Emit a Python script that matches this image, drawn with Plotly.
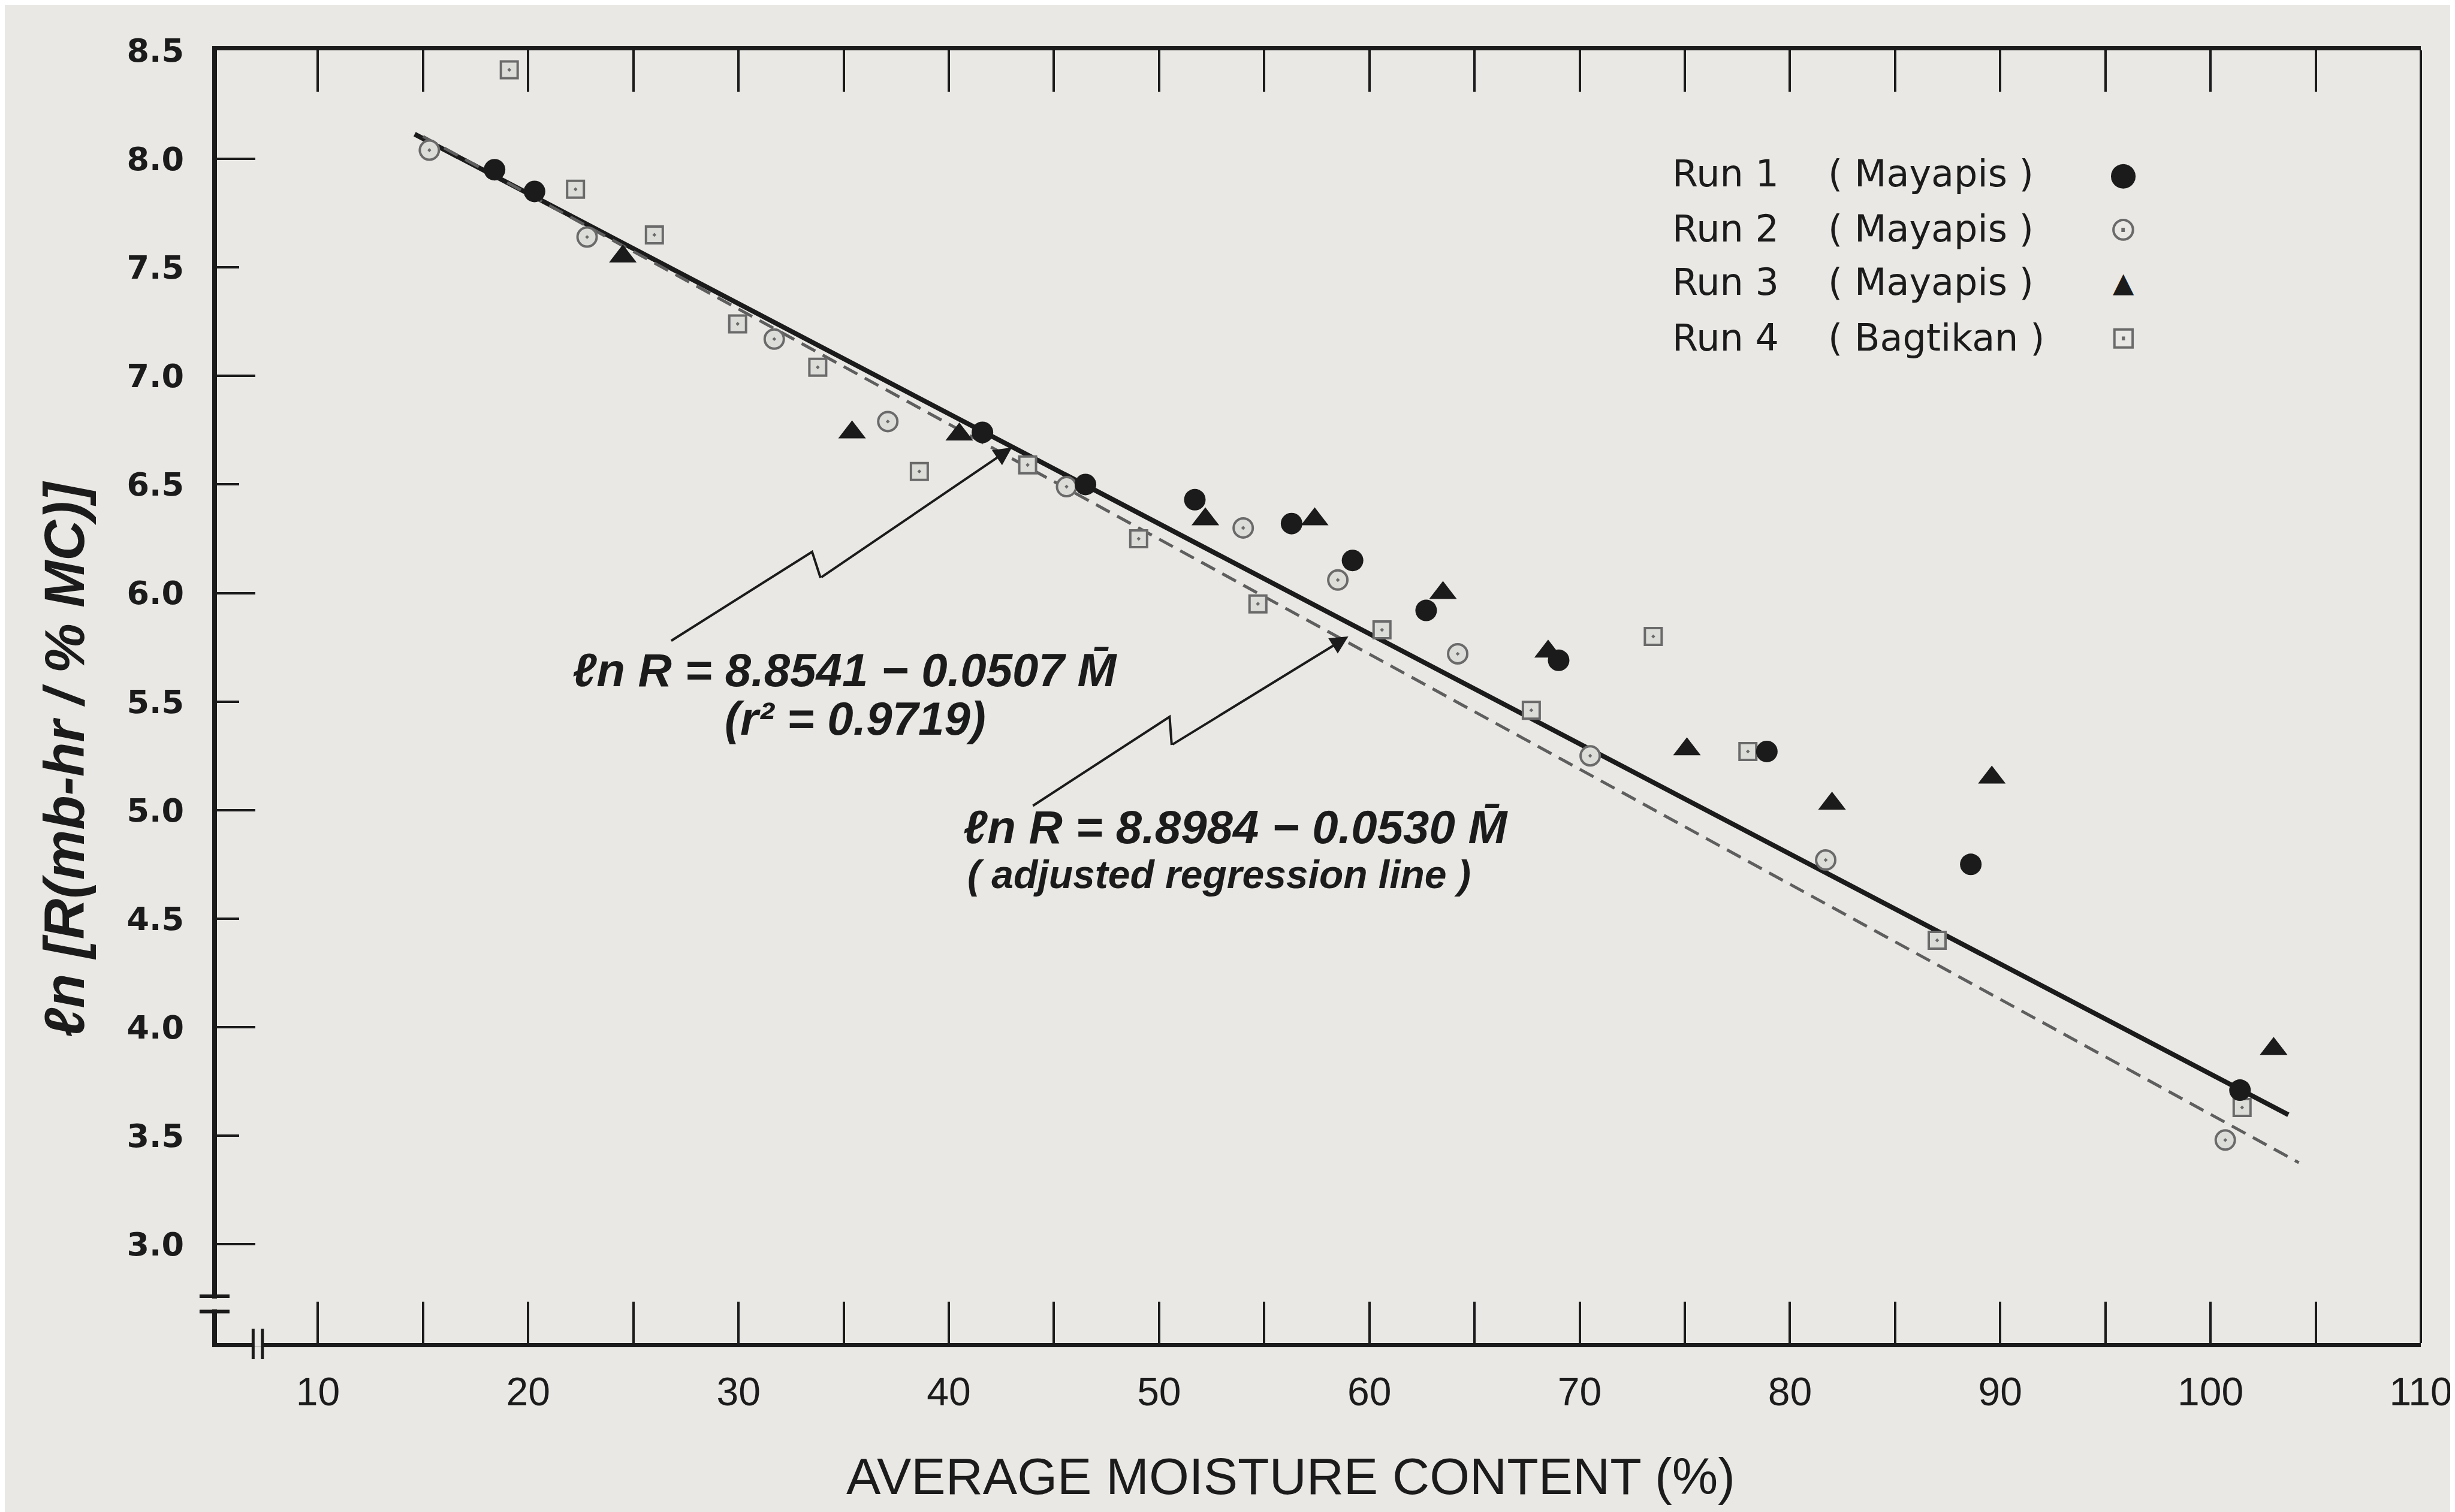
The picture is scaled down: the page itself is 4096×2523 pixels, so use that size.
import plotly.graph_objects as go

# ---------------- data ----------------
run1_m = [18.4, 20.3, 41.6, 46.5, 51.7, 56.3, 59.2, 62.7, 69.0, 78.9, 88.6, 101.4]
run1_v = [7.95, 7.85, 6.74, 6.50, 6.43, 6.32, 6.15, 5.92, 5.69, 5.27, 4.75, 3.71]

run2_m = [15.3, 22.8, 31.7, 37.1, 45.6, 54.0, 58.5, 64.2, 70.5, 81.7, 100.7]
run2_v = [8.04, 7.64, 7.17, 6.79, 6.49, 6.30, 6.06, 5.72, 5.25, 4.77, 3.48]

run3_m = [24.5, 35.4, 40.5, 52.2, 57.4, 63.5, 68.5, 75.1, 82.0, 89.6, 103.0]
run3_v = [7.55, 6.74, 6.73, 6.34, 6.34, 6.00, 5.73, 5.28, 5.03, 5.15, 3.90]

run4_m = [19.1, 22.25, 26.0, 29.96, 33.77, 38.6, 43.75, 49.03, 54.7, 60.6, 67.7, 73.5, 78.0, 87.0, 101.5]
run4_v = [8.41, 7.86, 7.65, 7.24, 7.04, 6.56, 6.59, 6.25, 5.95, 5.83, 5.46, 5.80, 5.27, 4.40, 3.63]

# regression lines: ln R = a - b*M
fit_a, fit_b = 8.8541, 0.0507
adj_a, adj_b = 8.8984, 0.0530
fit_m = [14.6, 103.7]
adj_m = [15.0, 104.2]

x_ticks = [10, 20, 30, 40, 50, 60, 70, 80, 90, 100, 110]
x_minor = [15, 25, 35, 45, 55, 65, 75, 85, 95, 105]
y_ticks = [3.0, 3.5, 4.0, 4.5, 5.0, 5.5, 6.0, 6.5, 7.0, 7.5, 8.0, 8.5]
y_major = [3.0, 4.0, 5.0, 6.0, 7.0, 8.0]

legend_runs = ["Run 1", "Run 2", "Run 3", "Run 4"]
legend_woods = ["( Mayapis )", "( Mayapis )", "( Mayapis )", "( Bagtikan )"]
legend_syms = ["\u25CF", "\u2299", "\u25B2", "\u22A1"]

x_range = [5.2, 110]
y_range = [2.545, 8.5]

# ---------------- style ----------------
BG = "#e9e8e4"
INK = "#1b1b1b"
GREY = "#6a6a6a"

fig = go.Figure()

fig.add_trace(go.Scatter(
    x=fit_m, y=[fit_a - fit_b * m for m in fit_m], mode="lines",
    line=dict(color=INK, width=8), showlegend=False, hoverinfo="skip"))
fig.add_trace(go.Scatter(
    x=adj_m, y=[adj_a - adj_b * m for m in adj_m], mode="lines",
    line=dict(color="#5e5e5e", width=5, dash="26px,14px"), showlegend=False, hoverinfo="skip"))

fig.add_trace(go.Scatter(
    x=run4_m, y=run4_v, mode="markers", name="Run 4 (Bagtikan)",
    marker=dict(symbol="square-dot", size=28, color="#dcdcd8", line=dict(color=GREY, width=4)),
    showlegend=False))
fig.add_trace(go.Scatter(
    x=run2_m, y=run2_v, mode="markers", name="Run 2 (Mayapis)",
    marker=dict(symbol="circle-dot", size=32, color="#dcdcd8", line=dict(color=GREY, width=4)),
    showlegend=False))
fig.add_trace(go.Scatter(
    x=run3_m, y=run3_v, mode="markers", name="Run 3 (Mayapis)",
    marker=dict(symbol="triangle-up", size=40, color=INK, line=dict(width=0)),
    showlegend=False))
fig.add_trace(go.Scatter(
    x=run1_m, y=run1_v, mode="markers", name="Run 1 (Mayapis)",
    marker=dict(symbol="circle", size=36, color=INK, line=dict(width=0)),
    showlegend=False))

# helper trace for the long (whole-number) ticks axis
fig.add_trace(go.Scatter(x=[None], y=[None], yaxis="y2", showlegend=False, hoverinfo="skip"))

annotations = []
# legend as text
row_y = [0.9045, 0.8623, 0.8206, 0.7779]
for i in range(4):
    annotations.append(dict(x=0.6599, y=row_y[i], xref="paper", yref="paper", text=legend_runs[i],
                            showarrow=False, xanchor="left", yanchor="middle",
                            font=dict(family="DejaVu Sans", size=62, color=INK)))
    annotations.append(dict(x=0.7306, y=row_y[i], xref="paper", yref="paper", text=legend_woods[i],
                            showarrow=False, xanchor="left", yanchor="middle",
                            font=dict(family="DejaVu Sans", size=62, color=INK)))
sym_col = [INK, GREY, INK, GREY]
sym_size = [54, 56, 46, 52]
for i in range(4):
    annotations.append(dict(x=0.865, y=row_y[i], xref="paper", yref="paper", text=legend_syms[i],
                            showarrow=False, xanchor="center", yanchor="middle",
                            font=dict(family="DejaVu Sans", size=sym_size[i], color=sym_col[i])))

EQF = dict(family="Liberation Sans", size=78, color=INK, style="italic", weight="bold")
annotations += [
    dict(x=0.2848, y=0.5205, xref="paper", yref="paper", showarrow=False,
         text="\u2113n R = 8.8541 \u2212 0.0507 M\u0304", font=EQF, xanchor="center", yanchor="middle"),
    dict(x=0.2897, y=0.4830, xref="paper", yref="paper", showarrow=False,
         text="(r\u00b2 = 0.9719)", font=EQF, xanchor="center", yanchor="middle"),
    dict(x=0.4623, y=0.3990, xref="paper", yref="paper", showarrow=False,
         text="\u2113n R = 8.8984 \u2212 0.0530 M\u0304", font=EQF, xanchor="center", yanchor="middle"),
    dict(x=0.4547, y=0.3625, xref="paper", yref="paper", showarrow=False,
         text="( adjusted regression line )",
         font=dict(family="Liberation Sans", size=66, color=INK, style="italic", weight="bold"),
         xanchor="center", yanchor="middle"),
]

# arrows (last segment of each leader line)
arrow1 = [(26.8, 5.78), (33.5, 6.19), (33.9, 6.07), (43.0, 6.67)]
arrow2 = [(44.0, 5.02), (50.5, 5.43), (50.6, 5.30), (59.0, 5.80)]
shapes = []
for pts in (arrow1, arrow2):
    path = "M {} {} L {} {} L {} {}".format(pts[0][0], pts[0][1], pts[1][0], pts[1][1], pts[2][0], pts[2][1])
    shapes.append(dict(type="path", xref="x", yref="y", path=path, line=dict(color=INK, width=4)))
    annotations.append(dict(x=pts[3][0], y=pts[3][1], ax=pts[2][0], ay=pts[2][1], xref="x", yref="y",
                            axref="x", ayref="y", text="", showarrow=True, arrowhead=2,
                            arrowsize=1.5, arrowwidth=4, arrowcolor=INK, standoff=0))

# axis titles
annotations.append(dict(x=0.4873, y=-0.1029, xref="paper", yref="paper", showarrow=False,
                        text="AVERAGE MOISTURE CONTENT (%)", xanchor="center", yanchor="middle",
                        font=dict(family="Liberation Sans", size=86, color=INK)))
annotations.append(dict(x=-0.0691, y=0.4516, xref="paper", yref="paper", showarrow=False,
                        text="\u2113n [R(mb-hr / % MC)]", textangle=-90, xanchor="center", yanchor="middle",
                        font=dict(family="Liberation Sans", size=94, color=INK, style="italic", weight="bold")))

# right border
shapes.append(dict(type="line", xref="paper", yref="paper", x0=1, x1=1, y0=0, y1=1,
                   line=dict(color=INK, width=4)))
# y-axis break
shapes.append(dict(type="rect", xref="paper", yref="y", x0=-0.0025, x1=0.0025, y0=2.70, y1=2.75,
                   fillcolor=BG, line=dict(width=0)))
for yb in (2.69, 2.76):
    shapes.append(dict(type="line", xref="paper", yref="y", x0=-0.0079, x1=0.0057, y0=yb, y1=yb,
                       line=dict(color=INK, width=6)))
# x-axis break
shapes.append(dict(type="rect", xref="x", yref="paper", x0=6.97, x1=7.31, y0=-0.003, y1=0.003,
                   fillcolor=BG, line=dict(width=0)))
for xb in (6.92, 7.36):
    shapes.append(dict(type="line", xref="x", yref="paper", x0=xb, x1=xb, y0=-0.0125, y1=0.011,
                       line=dict(color=INK, width=5)))

fig.update_layout(
    width=4096, height=2523,
    margin=dict(l=354, r=52, t=76, b=290),
    paper_bgcolor=BG, plot_bgcolor=BG,
    showlegend=False,
    xaxis=dict(range=x_range, tickvals=x_ticks, ticks="inside", ticklen=69, tickwidth=4, tickcolor=INK,
               showline=True, linewidth=7, linecolor=INK, mirror="allticks",
               showgrid=False, zeroline=False, ticklabeloverflow="allow",
               minor=dict(tickvals=x_minor, ticks="inside", ticklen=37, tickwidth=4, tickcolor=INK, showgrid=False),
               tickfont=dict(family="Liberation Sans", size=66, color=INK), ticklabelstandoff=18),
    yaxis=dict(range=y_range, tickvals=y_ticks, tickformat=".1f", ticks="inside", ticklen=37, tickwidth=4,
               tickcolor=INK, showline=True, linewidth=8, linecolor=INK, mirror=False,
               showgrid=False, zeroline=False,
               tickfont=dict(family="DejaVu Sans", size=54, color=INK, weight="bold"), ticklabelstandoff=36),
    yaxis2=dict(range=y_range, overlaying="y", side="left", anchor="x", tickvals=y_major, ticks="inside",
                ticklen=64, tickwidth=4, tickcolor=INK, showticklabels=False, showline=False,
                showgrid=False, zeroline=False),
    annotations=annotations,
    shapes=shapes,
)

fig.write_html("out.html")
